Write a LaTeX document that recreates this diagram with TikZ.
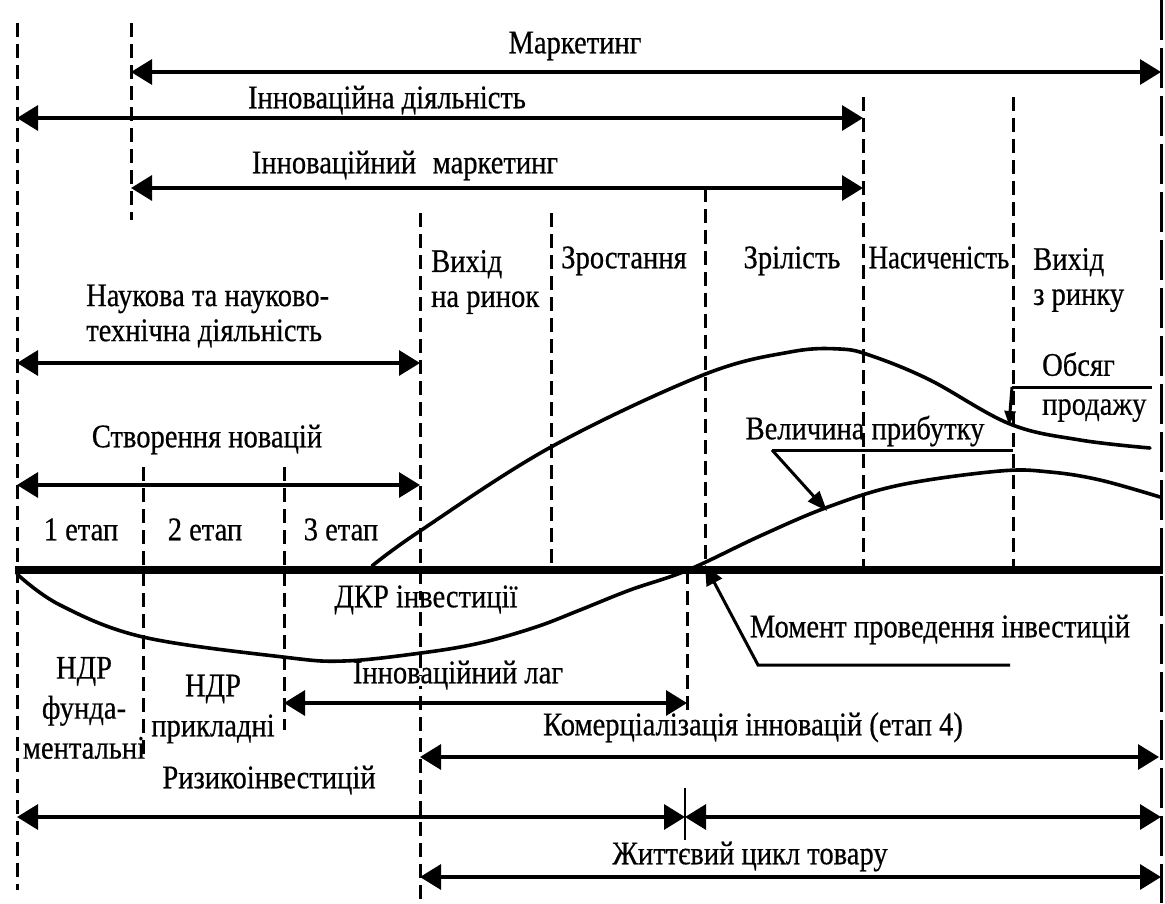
\documentclass[tikz,border=0pt]{standalone}
\usepackage{fontspec}
\setmainfont{Liberation Serif}[FakeStretch=0.865,FakeBold=0.5]
\usetikzlibrary{arrows.meta}
\begin{document}
\begin{tikzpicture}[x=1pt,y=-1pt,
  dline/.style={line width=3pt, dash pattern=on 14pt off 7pt},
  rline/.style={line width=3pt, dash pattern=on 40pt off 8pt},
  span/.style={line width=3.2pt, {Triangle[length=21pt,width=25pt]}-{Triangle[length=21pt,width=25pt]}},
  lbl/.style={inner sep=0pt, font=\fontsize{33}{36}\selectfont, text height=0.7em, text depth=0.25em, yshift=-5pt},
  lbll/.style={inner sep=0pt, font=\fontsize{33}{35}\selectfont, align=left, yshift=-3pt},
  ndr/.style={inner sep=0pt, font=\fontsize{33}{40}\selectfont, align=center},
  curve/.style={line width=3.6pt, line join=round, line cap=round},
  lead/.style={line width=3pt},
]
\useasboundingbox (0,0) rectangle (1165,903);

% ---- dashed verticals
\draw[dline] (17,23) -- (17,890);
\draw[dline] (131,23) -- (131,220);
\draw[rline] (1161,0) -- (1161,903);
\draw[dline] (420,213) -- (420,903);
\draw[dline] (551,213) -- (551,570);
\draw[dline] (705,188) -- (705,570);
\draw[dline] (863,97) -- (863,570);
\draw[dline] (1013,97) -- (1013,570);
\draw[dline] (143,467) -- (143,760);
\draw[dline] (284,467) -- (284,730);
\draw[dline] (687,570) -- (687,713);

% ---- top spans
\coordinate (mkL) at (131,72);  \coordinate (mkR) at (1161,72);
\coordinate (idL) at (17,118);  \coordinate (idR) at (863,118);
\coordinate (imL) at (131,188); \coordinate (imR) at (863,188);
\draw[span] (mkL) -- (mkR);
\draw[span] (idL) -- (idR);
\draw[span] (imL) -- (imR);
\node[lbl] (tmk) at (575,46) {Маркетинг};
\node[lbl] (tid) at (387,101) {Інноваційна діяльність};
\node[lbl] (tim) at (405,166) {Інноваційний\enspace маркетинг};

% ---- phase labels
\node[lbll, anchor=west] (tv1) at (431,279) {Вихід\\на ринок};
\node[lbl] (tzr) at (624,261) {Зростання};
\node[lbl] (tzl) at (792,261) {Зрілість};
\node[lbl] (tns) at (939,261) {\scalebox{0.94}[1]{Насиченість}};
\node[lbll, anchor=west] (tv2) at (1033,277) {Вихід\\з ринку};

% ---- left spans
\node[lbll, anchor=west] (tnt) at (86,313) {Наукова та науково-\\технічна діяльність};
\coordinate (ntL) at (17,363); \coordinate (ntR) at (420,363);
\draw[span] (ntL) -- (ntR);
\node[lbl] (tsn) at (207,440) {Створення новацій};
\coordinate (snL) at (17,485); \coordinate (snR) at (420,485);
\draw[span] (snL) -- (snR);
\node[lbl] (te1) at (81,533) {1 етап};
\node[lbl] (te2) at (205,533) {2 етап};
\node[lbl] (te3) at (341,533) {3 етап};

% ---- axis
\coordinate (axL) at (15,570); \coordinate (axR) at (1163,570);
\draw[line width=8pt] (axL) -- (axR);

% ---- sales curve
\draw[curve] plot[smooth, tension=0.6] coordinates {(372,566) (420,531) (551,447) (703,375) (790,352) (840,349) (872,356) (930,380) (1010,424) (1080,440) (1150,448)};
% ---- profit curve
\draw[curve] plot[smooth, tension=0.6] coordinates {(17,574) (60,605) (143,637) (283,657) (344,661) (421,653) (480,643) (536,627) (580,610) (630,590) (688,570) (760,536) (828,507) (900,485) (1000,471) (1050,472) (1100,480) (1160,497)};

% ---- curve labels
\node[lbll, anchor=west] (tob) at (1042,384) {Обсяг\\[4pt]продажу};
\coordinate (obA) at (1152,387); \coordinate (obB) at (1012,387); \coordinate (obT) at (1009,425);
\draw[lead] (obA) -- (obB);
\draw[lead, -{Triangle[length=14pt,width=11pt]}] (obB) -- (obT);

\node[lbl] (tvp) at (865,432) {Величина прибутку};
\coordinate (vpA) at (1013,450); \coordinate (vpB) at (772,450); \coordinate (vpT) at (827,511);
\draw[lead] (vpA) -- (vpB);
\draw[lead, -{Triangle[length=20pt,width=15pt]}] (vpB) -- (vpT);

\node[lbl, fill=white] (tdk) at (426,600) {ДКР інвестиції};

\node[lbl] (tmo) at (940,630) {Момент проведення інвестицій};
\coordinate (moA) at (1010,665); \coordinate (moB) at (758,665); \coordinate (moT) at (705,565);
\draw[lead, -{Triangle[length=20pt,width=17pt]}] (moA) -- (moB) -- (moT);

% ---- bottom labels
\node[ndr] (tn1) at (84,708) {НДР\\фунда-\\ментальні};
\node[ndr] (tn2) at (213,709) {НДР\\прикладні};

\node[lbl, fill=white] (tlg) at (458,676) {Інноваційний лаг};
\coordinate (lgL) at (284,703); \coordinate (lgR) at (687,703);
\draw[span] (lgL) -- (lgR);

\node[lbl] (tkm) at (753,728) {Комерціалізація інновацій (етап 4)};
\coordinate (kmL) at (420,757); \coordinate (kmR) at (1159,757);
\draw[span] (kmL) -- (kmR);

\node[lbl] (tri) at (269,781) {Ризикоінвестицій};
\coordinate (riL) at (17,817); \coordinate (riM) at (685,817); \coordinate (riR) at (1161,817);
\coordinate (tkT) at (685,788); \coordinate (tkB) at (685,840);
\draw[line width=2.4pt] (tkT) -- (tkB);
\draw[span] (riL) -- (riM);
\draw[span] (riM) -- (riR);

\node[lbl] (tzh) at (750,857) {Життєвий цикл товару};
\coordinate (zhL) at (420,877); \coordinate (zhR) at (1161,877);
\draw[span] (zhL) -- (zhR);
\end{tikzpicture}
\end{document}
